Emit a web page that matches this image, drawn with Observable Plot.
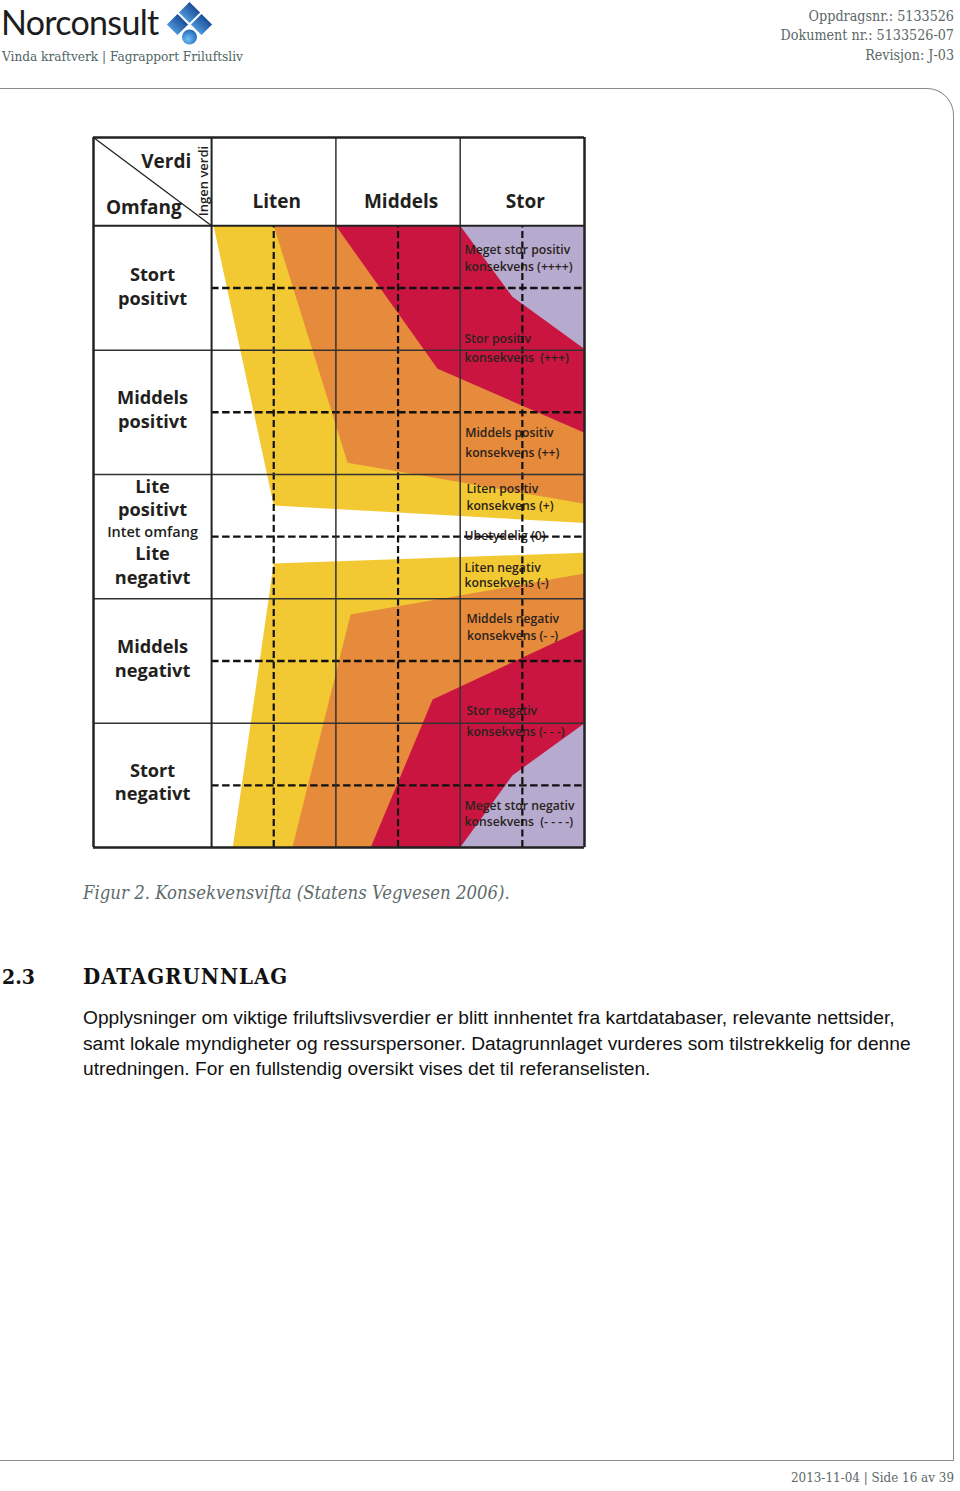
<!DOCTYPE html>
<html>
<head>
<meta charset="utf-8">
<script src="https://cdn.jsdelivr.net/npm/d3@7"></script>
<script src="https://cdn.jsdelivr.net/npm/@observablehq/plot@0.6"></script>
<style>
  html, body { margin: 0; padding: 0; background: #fff; }
  body { width: 960px; height: 1491px; position: relative; overflow: hidden; }
  .abs { position: absolute; white-space: nowrap; }
  .slab { font-family: "DejaVu Serif Condensed", "DejaVu Serif", serif; font-stretch: condensed; }
  .hdr { color: #5b6767; font-size: 14.2px; line-height: 19px; right: 6px; text-align: right; }
  #frame { position: absolute; left: -3px; top: 88px; width: 957px; height: 1373px;
           border: 1.5px solid #8a8a8a; border-left: none; border-top-right-radius: 27px; box-sizing: border-box; }
  #chart { position: absolute; left: 80px; top: 125px; }
  .para { font-family: "Liberation Sans", Arial, sans-serif; font-size: 19.2px; line-height: 25.5px; color: #111; }
</style>
</head>
<body>
<div id="frame"></div>

<div class="abs" style="left:1px; top:2px; font-family: Lato, 'Open Sans', sans-serif; font-size:34px; line-height:40px; color:#1d1d1d; letter-spacing:-0.7px;">Norconsult</div>
<svg class="abs" style="left:164px; top:1px;" width="52" height="48" viewBox="0 0 52 48">
  <defs>
    <linearGradient id="lg" x1="0" y1="0" x2="0" y2="1">
      <stop offset="0" stop-color="#1b4f97"/>
      <stop offset="1" stop-color="#4d94d8"/>
    </linearGradient>
    <radialGradient id="rg" cx="0.4" cy="0.65" r="0.7">
      <stop offset="0" stop-color="#6fc0f4"/>
      <stop offset="1" stop-color="#1f63b5"/>
    </radialGradient>
  </defs>
  <rect x="18" y="4" width="15" height="15" transform="rotate(45 25.5 11.5)" fill="url(#lg)"/>
  <rect x="6" y="16" width="15" height="15" transform="rotate(45 13.5 23.5)" fill="url(#lg)"/>
  <rect x="30" y="16" width="15" height="15" transform="rotate(45 37.5 23.5)" fill="url(#lg)"/>
  <circle cx="25.5" cy="36" r="7.5" fill="url(#rg)"/>
</svg>
<div class="abs slab" style="left:2px; top:47px; font-size:13.5px; line-height:18px; color:#4f6565;">Vinda kraftverk | Fagrapport Friluftsliv</div>

<div class="abs slab hdr" style="top:7px;">Oppdragsnr.: 5133526</div>
<div class="abs slab hdr" style="top:26px;">Dokument nr.: 5133526-07</div>
<div class="abs slab hdr" style="top:46px;">Revisjon: J-03</div>

<div id="chart"></div>

<div class="abs slab" style="left:83px; top:881px; font-size:18.4px; line-height:24px; font-style:italic; color:#5d6b6b;">Figur 2. Konsekvensvifta (Statens Vegvesen 2006).</div>

<div class="abs slab" style="left:2px; top:964px; font-size:21px; line-height:26px; font-weight:bold; color:#111;">2.3</div>
<div class="abs slab" style="left:83px; top:963px; font-size:22px; line-height:26px; font-weight:bold; color:#111; letter-spacing:1px;">DATAGRUNNLAG</div>

<div class="abs para" style="left:83px; top:1005px;">Opplysninger om viktige friluftslivsverdier er blitt innhentet fra kartdatabaser, relevante nettsider,<br>samt lokale myndigheter og ressurspersoner. Datagrunnlaget vurderes som tilstrekkelig for denne<br>utredningen. For en fullstendig oversikt vises det til referanselisten.</div>

<div class="abs slab hdr" style="top:1468px; font-size:13.3px;">2013-11-04 | Side 16 av 39</div>

<script>
// ---------- data ----------
// Columns (Verdi) and rows (Omfang), in chart units
const columnLabels = ["Liten", "Middels", "Stor"];
const columnCenters = [0.5, 1.5, 2.5];
const columnEdges = [0, 1, 2];
const columnMidlines = [0.5, 1.5, 2.5];
const rowEdges = [1.5, 0.5, -0.5, -1.5];
const rowMidlines = [2, 1, 0, -1, -2];

const headerCorner = ["Verdi", "Omfang", "Ingen verdi"];

const rowLabelText = ["Stort", "positivt", "Middels", "positivt", "Lite", "positivt",
                      "Lite", "negativt", "Middels", "negativt", "Stort", "negativt"];
const rowLabelY = [2.106, 1.913, 1.117, 0.924, 0.396, 0.214,
                   -0.142, -0.336, -0.892, -1.085, -1.889, -2.074];
const neutralLabel = "Intet omfang";

const consequenceText = [
  "Meget stor positiv", "konsekvens (++++)",
  "Stor positiv", "konsekvens  (+++)",
  "Middels positiv", "konsekvens (++)",
  "Liten positiv", "konsekvens (+)",
  "Ubetydelig (0)",
  "Liten negativ", "konsekvens (-)",
  "Middels negativ", "konsekvens (- -)",
  "Stor negativ", "konsekvens (- - -)",
  "Meget stor negativ", "konsekvens  (- - - -)"
];
const consequenceX = [2.035, 2.035, 2.035, 2.035, 2.04, 2.04, 2.05, 2.05, 2.035,
                      2.035, 2.035, 2.05, 2.055, 2.05, 2.05, 2.035, 2.035];
const consequenceY = [2.307, 2.170, 1.592, 1.439, 0.836, 0.675, 0.382, 0.245, 0.008,
                      -0.249, -0.370, -0.667, -0.796, -1.407, -1.568, -2.170, -2.299];

// Fan boundaries (upper = positive, lower = negative)
const bands = ["+", "++", "+++", "++++"];
const upperBoundaries = [
  [[0.016, 2.5], [0.5, 0.25], [3, 0.11]],
  [[0.5, 2.5], [1.094, 0.595], [3, 0.265]],
  [[1.0, 2.5], [1.818, 1.35], [3, 0.836]],
  [[2.0, 2.5], [2.42, 1.93], [3, 1.51]]
];
const lowerBoundaries = [
  [[0.17, -2.5], [0.5, -0.217], [3, -0.129]],
  [[0.65, -2.5], [1.118, -0.627], [3, -0.297]],
  [[1.28, -2.5], [1.778, -1.31], [3, -0.74]],
  [[2.0, -2.5], [2.42, -1.92], [3, -1.50]]
];

// frame extents (chart units)
const xLeft = -0.95, xRight = 3, yBottom = -2.5, yBodyTop = 2.5, yTop = 3.21;

// ---------- styles ----------
const bandColors = ["#f3c933", "#e68a3b", "#cb1541", "#b6abcf"];
const ink = "#231f20";

// build polygon rows
const fanRows = [];
bands.forEach((b, i) => {
  upperBoundaries[i].forEach(([x, y]) => fanRows.push({band: b, half: "pos", x, y}));
  fanRows.push({band: b, half: "pos", x: xRight, y: yBodyTop});
  lowerBoundaries[i].forEach(([x, y]) => fanRows.push({band: b, half: "neg", x, y}));
  fanRows.push({band: b, half: "neg", x: xRight, y: yBottom});
});

const rowLabels = rowLabelText.map((t, i) => ({t, y: rowLabelY[i]}));
const consequences = consequenceText.map((t, i) => ({t, x: consequenceX[i], y: consequenceY[i]}));
const cols = columnLabels.map((t, i) => ({t, x: columnCenters[i]}));

const fontFam = "'Open Sans', 'Noto Sans', sans-serif";

const marks = [];
bands.forEach((b, i) => {
  marks.push(Plot.line(fanRows, {
    filter: d => d.band === b, x: "x", y: "y", z: "half",
    fill: bandColors[i], stroke: "none", curve: "linear-closed"
  }));
});
// consequence labels (under the dashed grid)
marks.push(Plot.text(consequences, {
  x: "x", y: "y", text: "t", textAnchor: "start", fontSize: 12.2, fontWeight: 600,
  fill: "#2a221c", fontFamily: fontFam
}));
// dashed grid
marks.push(Plot.ruleX(columnMidlines, {y1: yBottom, y2: yBodyTop, stroke: "#111", strokeWidth: 2.2, strokeDasharray: "7,3.5"}));
marks.push(Plot.ruleY(rowMidlines, {x1: 0, x2: xRight, stroke: "#111", strokeWidth: 2.4, strokeDasharray: "7.5,3.5"}));
// solid grid
marks.push(Plot.ruleY(rowEdges, {x1: xLeft, x2: xRight, stroke: "#333", strokeWidth: 1.5}));
marks.push(Plot.ruleX(columnEdges.slice(1), {y1: yBottom, y2: yTop, stroke: "#333", strokeWidth: 1.5}));
marks.push(Plot.ruleX([columnEdges[0]], {y1: yBottom, y2: yTop, stroke: "#222", strokeWidth: 2}));
marks.push(Plot.ruleY([yBodyTop], {x1: xLeft, x2: xRight, stroke: "#222", strokeWidth: 2}));
marks.push(Plot.link([{x1: xLeft, y1: yTop, x2: columnEdges[0], y2: yBodyTop}],
  {x1: "x1", y1: "y1", x2: "x2", y2: "y2", stroke: "#222", strokeWidth: 1.3}));
// outer frame
marks.push(Plot.ruleX([xLeft, xRight], {y1: yBottom, y2: yTop, stroke: "#222", strokeWidth: 2.5}));
marks.push(Plot.ruleY([yBottom, yTop], {x1: xLeft, x2: xRight, stroke: "#222", strokeWidth: 2.5}));
// header texts
marks.push(Plot.text(cols, {x: "x", y: 2.69, text: "t", dx: 3, fontSize: 19, fontWeight: 700, fill: ink, fontFamily: fontFam}));
marks.push(Plot.text([headerCorner[0]], {x: -0.365, y: 3.01, text: d => d, fontSize: 19, fontWeight: 700, fill: ink, fontFamily: fontFam}));
marks.push(Plot.text([headerCorner[1]], {x: -0.545, y: 2.64, text: d => d, fontSize: 19, fontWeight: 700, fill: ink, fontFamily: fontFam}));
marks.push(Plot.text([headerCorner[2]], {x: -0.064, y: 2.86, text: d => d, rotate: -90, fontSize: 13, fontWeight: 600, fill: ink, fontFamily: fontFam}));
// row labels
marks.push(Plot.text(rowLabels, {x: -0.475, y: "y", text: "t", fontSize: 18.2, fontWeight: 700, fill: ink, fontFamily: fontFam}));
marks.push(Plot.text([neutralLabel], {x: -0.475, y: 0.036, text: d => d, fontSize: 14.5, fontWeight: 600, fill: ink, fontFamily: fontFam}));

const chart = Plot.plot({
  width: 520,
  height: 740,
  margin: 0,
  x: {domain: [xLeft, xRight], range: [13, 504], axis: null},
  y: {domain: [yBottom, yTop], range: [722, 12], axis: null},
  style: {background: "transparent", fontFamily: fontFam, color: ink},
  marks
});
document.getElementById("chart").appendChild(chart);
</script>
</body>
</html>
